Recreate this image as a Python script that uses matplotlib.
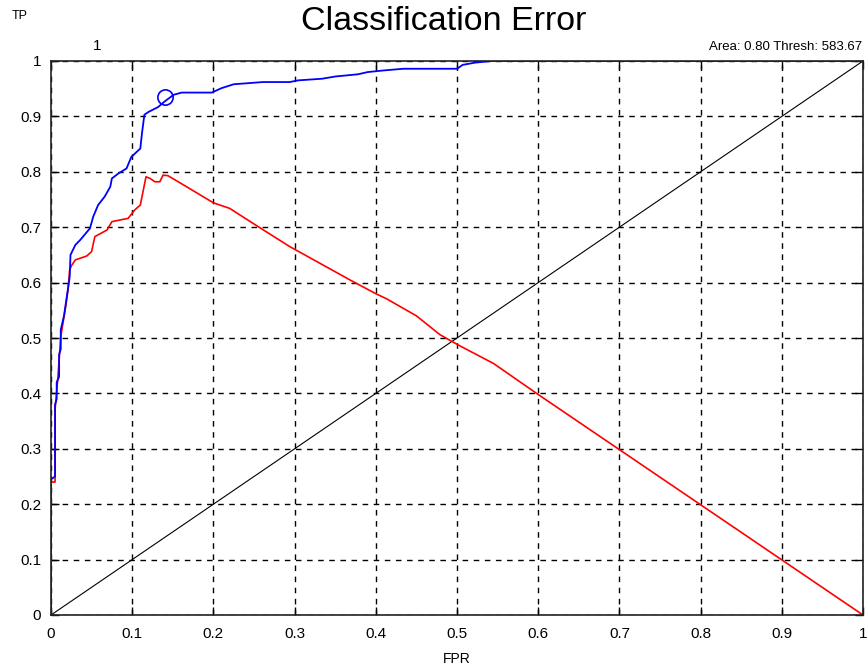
import matplotlib
matplotlib.use("Agg")
import matplotlib.pyplot as plt
from matplotlib import font_manager

# ROC curve (blue)
fpr = [0, 0, 0.005, 0.005, 0.007, 0.007, 0.010, 0.010, 0.012, 0.012, 0.016, 0.019,
       0.023, 0.024, 0.030, 0.036, 0.048, 0.052, 0.058, 0.066, 0.073, 0.075, 0.083,
       0.093, 0.099, 0.110, 0.112, 0.115, 0.120, 0.132, 0.140, 0.151, 0.161, 0.198,
       0.210, 0.225, 0.261, 0.294, 0.304, 0.334, 0.350, 0.378, 0.390, 0.410, 0.434,
       0.500, 0.507, 0.522, 0.543, 1.0]
tpr = [0, 0.245, 0.25, 0.38, 0.39, 0.42, 0.43, 0.47, 0.48, 0.515, 0.54, 0.57,
       0.61, 0.65, 0.668, 0.677, 0.698, 0.719, 0.740, 0.755, 0.773, 0.788, 0.797,
       0.806, 0.827, 0.842, 0.869, 0.903, 0.908, 0.917, 0.927, 0.939, 0.943, 0.943,
       0.951, 0.958, 0.962, 0.962, 0.965, 0.968, 0.972, 0.976, 0.980, 0.983, 0.986,
       0.986, 0.993, 0.997, 1.0, 1.0]

# classification error curve (red)
err_x = [0, 0, 0.005, 0.005, 0.008, 0.010, 0.012, 0.018, 0.021, 0.023, 0.025, 0.030,
         0.044, 0.050, 0.054, 0.069, 0.075, 0.085, 0.095, 0.103, 0.110, 0.117, 0.122,
         0.128, 0.134, 0.138, 0.144, 0.159, 0.200, 0.220, 0.253, 0.294, 0.368, 0.400,
         0.413, 0.450, 0.479, 0.502, 0.545, 0.598, 1.0]
err_y = [0, 0.24, 0.24, 0.37, 0.42, 0.46, 0.502, 0.556, 0.587, 0.623, 0.630, 0.641,
         0.648, 0.656, 0.683, 0.695, 0.710, 0.713, 0.716, 0.731, 0.740, 0.791, 0.788,
         0.782, 0.782, 0.794, 0.793, 0.780, 0.744, 0.734, 0.703, 0.665, 0.605, 0.580,
         0.571, 0.540, 0.506, 0.487, 0.454, 0.400, 0.0]

op_point = (0.14, 0.935)
ticks = [0, 0.1, 0.2, 0.3, 0.4, 0.5, 0.6, 0.7, 0.8, 0.9, 1]
tick_labels = ["0", "0.1", "0.2", "0.3", "0.4", "0.5", "0.6", "0.7", "0.8", "0.9", "1"]

names = {f.name for f in font_manager.fontManager.ttflist}
fam = "Liberation Sans Narrow" if "Liberation Sans Narrow" in names else "Liberation Sans"
plt.rcParams['font.family'] = [fam, 'DejaVu Sans']

fig = plt.figure(figsize=(8.67, 6.69), dpi=100)
ax = fig.add_axes([51/867, 1 - 615/669, 812/867, 554/669])

ax.plot([0, 1], [0, 1], color="black", lw=0.8)
ax.plot(err_x, err_y, color="red", lw=1.2)
ax.plot(fpr, tpr, color="blue", lw=1.3)
ax.plot(*op_point, marker="o", ms=11, mfc="none", mec="blue", mew=1.2)

ax.set_xlim(0, 1)
ax.set_ylim(0, 1)
ax.set_xticks(ticks)
ax.set_xticklabels(tick_labels)
ax.set_yticks(ticks)
ax.set_yticklabels(tick_labels)
ax.tick_params(direction="in", length=6, width=1, top=True, right=True,
               labelsize=11, colors="black")
ax.tick_params(axis="x", pad=9)
ax.tick_params(axis="y", pad=7)
ax.grid(True, color="black", linestyle=(0, (4, 4)), lw=1)
for s in ax.spines.values():
    s.set_linewidth(1.2)
    s.set_color("#222222")

fig.text(444/867, 1 - 21/669, "Classification Error", ha="center", va="center", fontsize=24.5)
fig.text(12/867, 1 - 16/669, "TP", ha="left", va="center", fontsize=9)
fig.text(97/867, 1 - 46/669, "1", ha="center", va="center", fontsize=11)
fig.text(862/867, 1 - 47/669, "Area: 0.80 Thresh: 583.67", ha="right", va="center", fontsize=9.5)
fig.text(457/867, 1 - 659/669, "FPR", ha="center", va="center", fontsize=10)

fig.savefig("out.png", dpi=100)
